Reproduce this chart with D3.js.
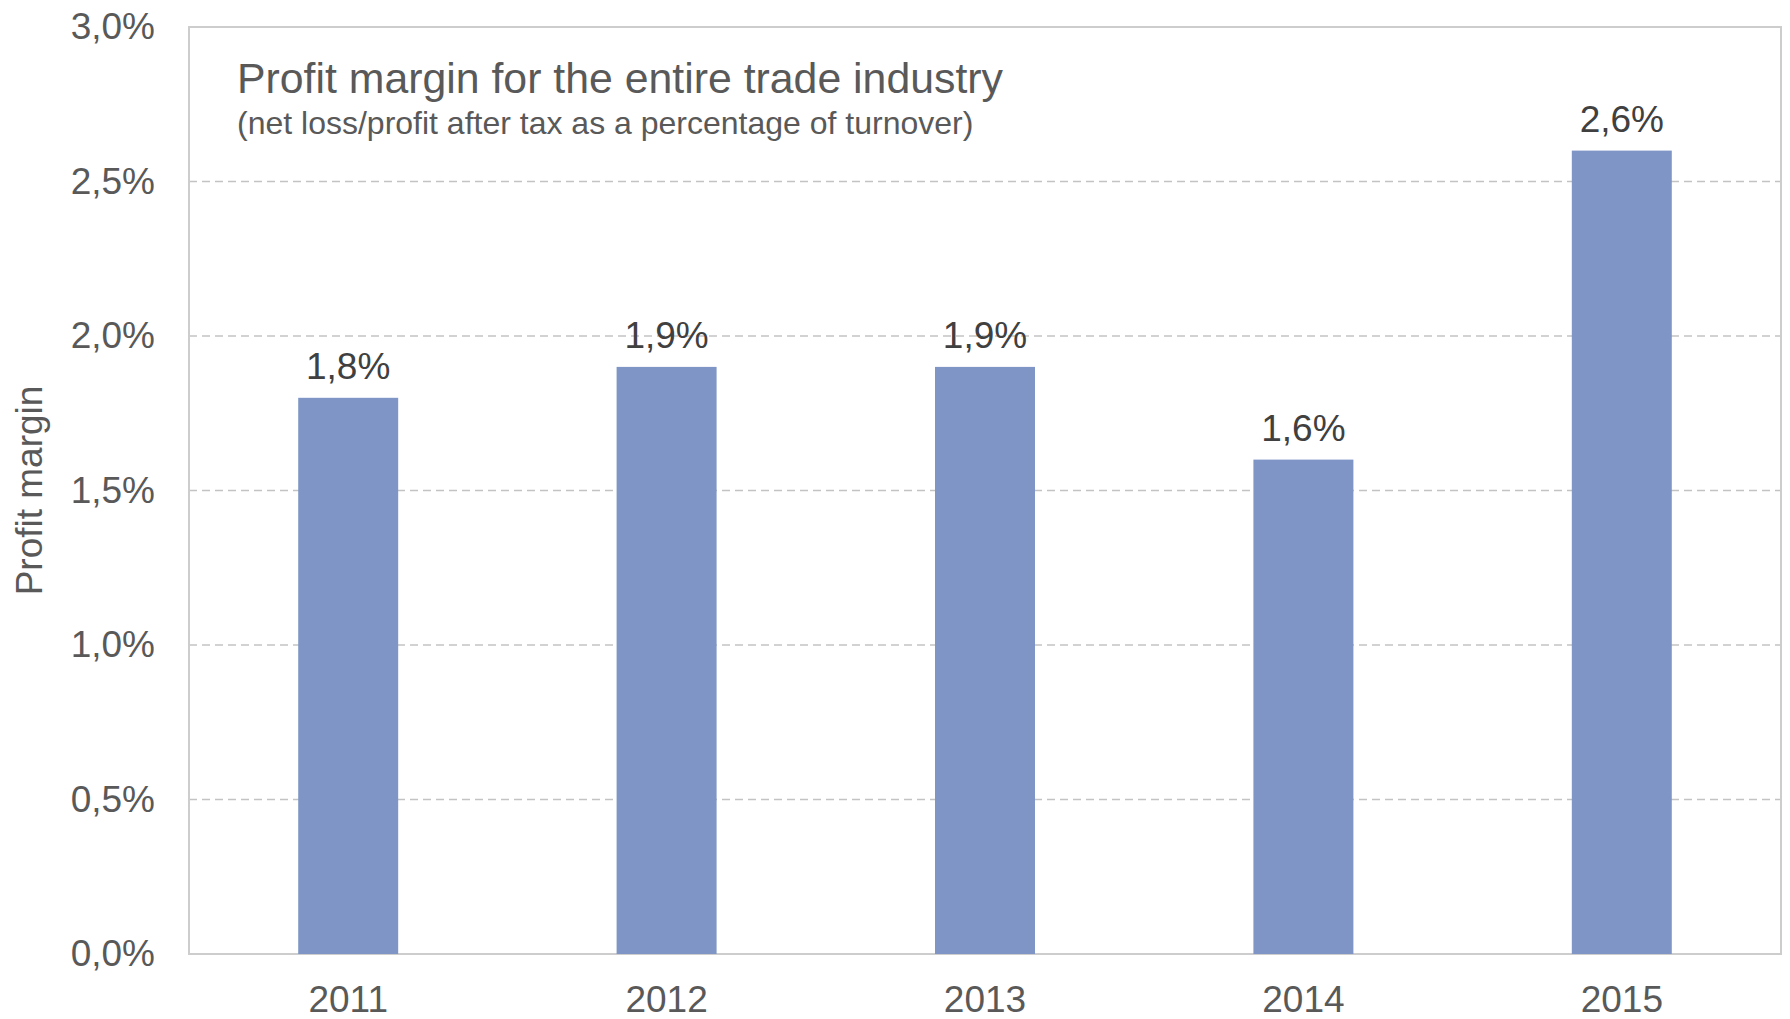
<!DOCTYPE html>
<html>
<head>
<meta charset="utf-8">
<script src="https://cdn.jsdelivr.net/npm/d3@7"></script>
<style>
  html, body { margin: 0; padding: 0; background: #fff; }
  svg { display: block; font-family: "Liberation Sans", Arial, sans-serif; }
</style>
</head>
<body>
<svg id="chart" width="1790" height="1019"></svg>
<script>
const years = ["2011", "2012", "2013", "2014", "2015"];
const margins = [1.8, 1.9, 1.9, 1.6, 2.6];
const yTicks = [0, 0.5, 1.0, 1.5, 2.0, 2.5, 3.0];
const titleText = "Profit margin for the entire trade industry";
const subtitleText = "(net loss/profit after tax as a percentage of turnover)";
const yAxisLabel = "Profit margin";

const fmt = v => v.toFixed(1).replace(".", ",") + "%";

const svg = d3.select("#chart");
const pLeft = 189, pRight = 1781, pTop = 27, pBottom = 954;

const x = d3.scaleBand().domain(years).range([pLeft, pRight]).paddingInner(0.686).paddingOuter(0.343);
const y = d3.scaleLinear().domain([0, 3.0]).range([pBottom, pTop]);

// gridlines
svg.append("g").selectAll("line")
  .data(yTicks.filter(t => t > 0 && t < 3.0))
  .join("line")
  .attr("x1", pLeft).attr("x2", pRight)
  .attr("y1", d => y(d)).attr("y2", d => y(d))
  .attr("stroke", "#c3c3c3").attr("stroke-width", 1.5)
  .attr("stroke-dasharray", "8,5");

// plot border
svg.append("rect")
  .attr("x", pLeft).attr("y", y(3.0))
  .attr("width", pRight - pLeft).attr("height", pBottom - y(3.0))
  .attr("fill", "none").attr("stroke", "#cdcdcd").attr("stroke-width", 2);

// bars
svg.append("g").selectAll("rect")
  .data(years.map((yr, i) => ({ yr, v: margins[i] })))
  .join("rect")
  .attr("x", d => x(d.yr))
  .attr("width", x.bandwidth())
  .attr("y", d => y(d.v))
  .attr("height", d => y(0) - y(d.v))
  .attr("fill", "#7e95c5");

// data labels
svg.append("g").selectAll("text")
  .data(years.map((yr, i) => ({ yr, v: margins[i] })))
  .join("text")
  .attr("x", d => x(d.yr) + x.bandwidth() / 2)
  .attr("y", d => y(d.v) - 19)
  .attr("text-anchor", "middle")
  .attr("font-size", 37)
  .attr("fill", "#404040")
  .text(d => fmt(d.v));

// y axis
const yAxis = d3.axisLeft(y).tickValues(yTicks).tickFormat(fmt).tickSize(0).tickPadding(34);
const gy = svg.append("g").attr("transform", `translate(${pLeft},0)`).call(yAxis);
gy.select(".domain").remove();
gy.selectAll("text").attr("font-size", 37).attr("fill", "#595959")
  .attr("font-family", "Liberation Sans, Arial, sans-serif");

// x axis
const xAxis = d3.axisBottom(x).tickSize(0).tickPadding(32);
const gx = svg.append("g").attr("transform", `translate(0,${pBottom})`).call(xAxis);
gx.select(".domain").remove();
gx.selectAll("text").attr("font-size", 37).attr("fill", "#595959")
  .attr("font-family", "Liberation Sans, Arial, sans-serif");

// y axis label
svg.append("text")
  .attr("transform", `translate(42,${(pTop + pBottom) / 2}) rotate(-90)`)
  .attr("text-anchor", "middle")
  .attr("font-size", 37)
  .attr("fill", "#595959")
  .text(yAxisLabel);

// title
svg.append("text")
  .attr("x", 237).attr("y", 93)
  .attr("font-size", 42.8)
  .attr("fill", "#595959")
  .text(titleText);

svg.append("text")
  .attr("x", 237).attr("y", 134)
  .attr("font-size", 32)
  .attr("fill", "#595959")
  .text(subtitleText);
</script>
</body>
</html>
